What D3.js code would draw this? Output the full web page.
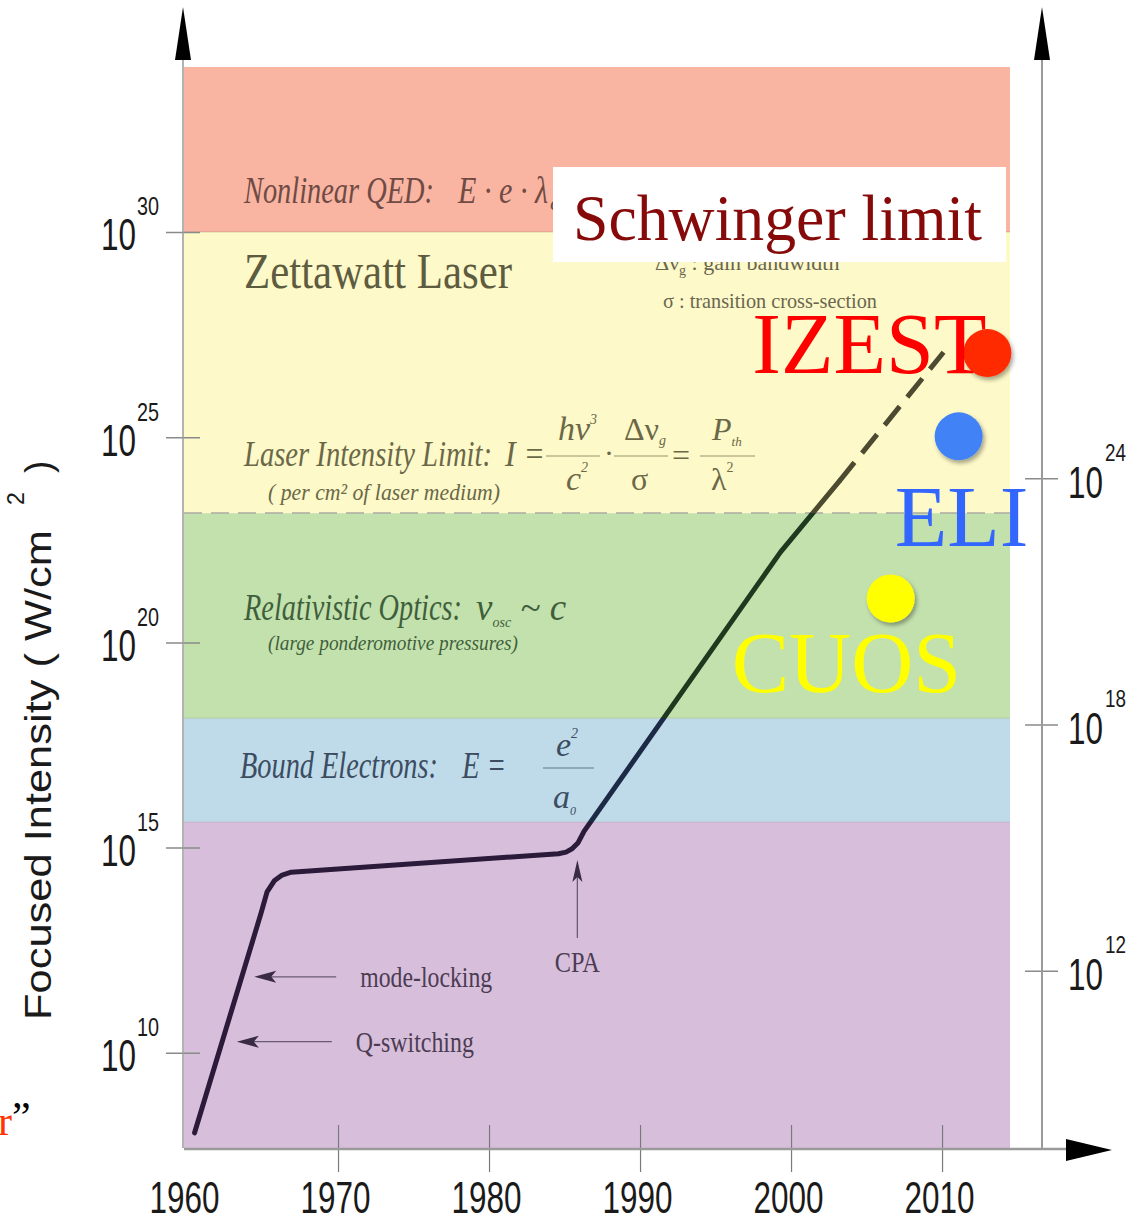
<!DOCTYPE html>
<html>
<head>
<meta charset="utf-8">
<script src="https://d3js.org/d3.v7.min.js"></script>
<style>
  body { margin: 0; background: #fff; }
  text { font-family: "Liberation Serif", "Times New Roman", serif; }
  .num { font-family: "Liberation Sans", Arial, sans-serif; fill: #1a1a1a; }
</style>
</head>
<body>
<script>
// intensity history, exponent of W/cm^2 against year
let curveYears = [1960.5, 1964.9, 1965.3, 1965.8, 1966.3, 1966.9, 1984.6, 1985.1, 1985.5, 1985.9, 1986.3, 1999.3, 2003.2];
let curveExp   = [8.05, 13.4, 13.92, 14.2, 14.33, 14.4, 14.85, 14.89, 14.97, 15.12, 15.4, 22.2, 23.93];
let projYears  = [2003.2, 2010.1];
let projExp    = [23.93, 27.07];

// regime bands (exponents)
let bandLo     = [7.68, 15.63, 18.15, 23.15, 30];
let bandHi     = [15.63, 18.15, 23.15, 30, 34.02];
let bandColors = ["#d7bfdc", "#bfdbea", "#c3e1ad", "#fdf9c8", "#f9b4a2"];
let lineColors = ["#2b1a3a", "#1c2a46", "#1d3a1f", "#4c4a30", "#4c4a30"];

// facilities
let facilities     = ["CUOS", "ELI", "IZEST"];
let facilityYears  = [2006.6, 2011.1, 2013.0];
let facilityExp    = [21.07, 25.02, 27.05];
let facilityColors = ["#ffff00", "#4382f7", "#ff2a00"];
let labelColors    = ["#ffff00", "#3366ff", "#ff0000"];

let schwingerExp = 29.05;

// annotations
let annoNames = ["mode-locking", "Q-switching", "CPA"];
let annoYears = [1964.45, 1963.3, 1985.85];
let annoExp   = [11.85, 10.27, 14.7];

let yearTicks  = [1960, 1970, 1980, 1990, 2000, 2010];
let leftTicks  = [10, 15, 20, 25, 30];
let rightTicks = [12, 18, 24];

let width = 1132, height = 1220;
let p10 = e => Math.pow(10, e);

let svg = d3.select("body").append("svg")
    .attr("width", width)
    .attr("height", height);

let defs = svg.append("defs");
defs.append("filter").attr("id", "shadow")
    .attr("x", "-50%").attr("y", "-50%").attr("width", "200%").attr("height", "200%")
  .append("feDropShadow")
    .attr("dx", 2).attr("dy", 3).attr("stdDeviation", 2).attr("flood-opacity", 0.35);

let x = d3.scaleLinear().domain([1959.8, 2014.5]).range([184, 1010]);
let y = d3.scaleLog().domain([p10(7.68), p10(34.02)]).range([1148, 67]);
let ey = e => y(p10(e));

// bands
svg.append("g").selectAll("rect")
    .data(bandLo)
    .join("rect")
      .attr("x", x(1959.8))
      .attr("width", x(2014.5) - x(1959.8))
      .attr("y", (d, i) => ey(bandHi[i]))
      .attr("height", (d, i) => ey(bandLo[i]) - ey(bandHi[i]))
      .attr("fill", (d, i) => bandColors[i]);

// faint band edges
svg.append("g").selectAll("line")
    .data(bandLo.slice(1))
    .join("line")
      .attr("x1", x(1959.8)).attr("x2", x(2014.5))
      .attr("y1", d => ey(d)).attr("y2", d => ey(d))
      .attr("stroke", (d, i) => i == 2 ? "#a9a9a0" : "rgba(0,0,0,0.07)")
      .attr("stroke-width", (d, i) => i == 2 ? 1.5 : 2)
      .attr("stroke-dasharray", (d, i) => i == 2 ? "18,9" : null);

// left axis
let leftAxis = svg.append("g")
    .attr("transform", "translate(183,0)")
    .call(d3.axisLeft(y).tickValues(leftTicks.map(p10)).tickSize(17).tickFormat(""));
leftAxis.select(".domain").remove();
leftAxis.selectAll(".tick line").attr("x1", 17).attr("stroke", "#8a8a8a").attr("stroke-width", 1.5);
leftAxis.selectAll(".tick").each(function (d, i) {
    let t = d3.select(this);
    t.append("text").attr("class", "num").attr("text-anchor", "start").attr("x", -82).attr("y", 18)
        .attr("font-size", 45).attr("textLength", 35).attr("lengthAdjust", "spacingAndGlyphs")
        .attr("fill", "#1a1a1a").text("10");
    t.append("text").attr("class", "num").attr("text-anchor", "start").attr("x", -46).attr("y", -17)
        .attr("font-size", 25).attr("textLength", 22).attr("lengthAdjust", "spacingAndGlyphs")
        .attr("fill", "#1a1a1a").text(leftTicks[i]);
});

// right axis
let rightAxis = svg.append("g")
    .attr("transform", "translate(1042,0)")
    .call(d3.axisRight(y).tickValues(rightTicks.map(p10)).tickSize(16).tickFormat(""));
rightAxis.select(".domain").remove();
rightAxis.selectAll(".tick line").attr("x1", -17).attr("stroke", "#8a8a8a").attr("stroke-width", 1.5);
rightAxis.selectAll(".tick").each(function (d, i) {
    let t = d3.select(this);
    t.append("text").attr("class", "num").attr("text-anchor", "start").attr("x", 26).attr("y", 19)
        .attr("font-size", 45).attr("textLength", 35).attr("lengthAdjust", "spacingAndGlyphs")
        .attr("fill", "#1a1a1a").text("10");
    t.append("text").attr("class", "num").attr("text-anchor", "start").attr("x", 63).attr("y", -18)
        .attr("font-size", 24).attr("textLength", 21).attr("lengthAdjust", "spacingAndGlyphs")
        .attr("fill", "#1a1a1a").text(rightTicks[i]);
});

// bottom axis
let bottomAxis = svg.append("g")
    .attr("transform", "translate(0,1148)")
    .call(d3.axisBottom(x).tickValues(yearTicks).tickSize(24).tickFormat(d3.format("d")));
bottomAxis.select(".domain").remove();
bottomAxis.selectAll(".tick line")
    .attr("y1", -23)
    .attr("stroke", "#7a7a7a").attr("stroke-width", 1.2)
    .attr("opacity", d => d == 1960 ? 0 : 1);
bottomAxis.selectAll(".tick text")
    .attr("class", "num")
    .attr("y", 65).attr("dy", 0)
    .attr("x", -3)
    .attr("font-size", 44)
    .attr("textLength", 70).attr("lengthAdjust", "spacingAndGlyphs")
    .attr("fill", "#1a1a1a");

// axis lines with arrows
let axisG = svg.append("g");
axisG.append("line").attr("x1", 183).attr("x2", 183).attr("y1", 55).attr("y2", 1148)
    .attr("stroke", "#9a9a9a").attr("stroke-width", 1.5);
axisG.append("line").attr("x1", 1042).attr("x2", 1042).attr("y1", 55).attr("y2", 1150)
    .attr("stroke", "#9a9a9a").attr("stroke-width", 2);
axisG.append("line").attr("x1", 184).attr("x2", 1075).attr("y1", 1149).attr("y2", 1149)
    .attr("stroke", "#9a9a9a").attr("stroke-width", 2.5);
axisG.append("path").attr("d", "M183,7 L191,60 L175,60 Z").attr("fill", "#000");
axisG.append("path").attr("d", "M1042,7 L1050,60 L1034,60 Z").attr("fill", "#000");
axisG.append("path").attr("d", "M1112,1150 L1066,1139 L1066,1161 Z").attr("fill", "#000");

// y axis title
let yTitle = svg.append("g").attr("transform", "translate(51,1020) rotate(-90)");
yTitle.append("text").attr("class", "num").attr("x", 0).attr("y", 0)
    .attr("font-size", 37).attr("textLength", 490).attr("lengthAdjust", "spacingAndGlyphs")
    .attr("fill", "#2a2a2a").text("Focused Intensity ( W/cm");
yTitle.append("text").attr("class", "num").attr("x", 515).attr("y", -27)
    .attr("font-size", 23).attr("fill", "#2a2a2a").text("2");
yTitle.append("text").attr("class", "num").attr("x", 547).attr("y", 0)
    .attr("font-size", 37).attr("fill", "#2a2a2a").text(")");

// regime texts
function txt(xx, yy, str, size, fill, opt) {
    opt = opt || {};
    let t = svg.append("text").attr("x", xx).attr("y", yy)
        .attr("font-size", size).attr("fill", fill)
        .attr("font-style", opt.italic ? "italic" : null)
        .attr("text-anchor", opt.anchor || null)
        .text(str);
    if (opt.len) t.attr("textLength", opt.len).attr("lengthAdjust", "spacingAndGlyphs");
    return t;
}
function fracLine(x1, x2, yy, col) {
    svg.append("line").attr("x1", x1).attr("x2", x2).attr("y1", yy).attr("y2", yy)
        .attr("stroke", col).attr("stroke-width", 1.2).attr("opacity", 0.7);
}

let cRed = "#6f4b44", cYel = "#6b6848", cGrn = "#3f5f3c", cBlu = "#3c4d62";

txt(244, 203, "Nonlinear QED:", 37, cRed, {italic: true, len: 190});
txt(458, 203, "E · e · λ", 37, cRed, {italic: true, len: 90});
txt(550, 210, "c  = m c²", 22, cRed, {italic: true});
txt(244, 288, "Zettawatt Laser", 50, "#5e5c40", {len: 268});
let bw = txt(655, 270, "Δν", 22, "#6a6650");
bw.append("tspan").attr("font-size", 14).attr("dy", 5).text("g");
bw.append("tspan").attr("dy", -5).text(" : gain bandwidth");
txt(663, 308, "σ   : transition cross-section", 22, "#6a6650", {len: 214});

txt(244, 466, "Laser Intensity Limit:", 36, cYel, {italic: true, len: 248});
txt(505, 466, "I =", 36, cYel, {italic: true, len: 40});
let f1 = txt(558, 440, "hν", 34, cYel, {italic: true});
f1.append("tspan").attr("font-size", 14).attr("dy", -16).text("3");
fracLine(546, 600, 456, cYel);
let f1b = txt(566, 490, "c", 34, cYel, {italic: true});
f1b.append("tspan").attr("font-size", 14).attr("dy", -18).text("2");
txt(604, 463, "·", 30, cYel);
let f2 = txt(624, 440, "Δν", 32, cYel);
f2.append("tspan").attr("font-size", 14).attr("dy", 5).attr("font-style", "italic").text("g");
fracLine(614, 668, 456, cYel);
txt(631, 490, "σ", 32, cYel);
txt(672, 466, "=", 32, cYel);
let f3 = txt(712, 440, "P", 32, cYel, {italic: true});
f3.append("tspan").attr("font-size", 13).attr("dy", 6).text("th");
fracLine(700, 755, 456, cYel);
let f3b = txt(711, 490, "λ", 32, cYel);
f3b.append("tspan").attr("font-size", 14).attr("dy", -18).text("2");
txt(268, 500, "( per cm² of laser medium)", 23, cYel, {italic: true, len: 232});

txt(244, 620, "Relativistic Optics:", 37, cGrn, {italic: true, len: 218});
let vo = txt(476, 620, "v", 37, cGrn, {italic: true});
vo.append("tspan").attr("font-size", 14).attr("dy", 7).text("osc");
vo.append("tspan").attr("dy", -7).text(" ~ c");
txt(268, 650, "(large ponderomotive pressures)", 21, cGrn, {italic: true, len: 250});

txt(240, 778, "Bound Electrons:", 37, cBlu, {italic: true, len: 198});
txt(462, 778, "E =", 37, cBlu, {italic: true, len: 44});
let e2 = txt(556, 756, "e", 34, cBlu, {italic: true});
e2.append("tspan").attr("font-size", 14).attr("dy", -18).text("2");
fracLine(543, 594, 768, cBlu);
let a0 = txt(553, 808, "a", 34, cBlu, {italic: true});
a0.append("tspan").attr("font-size", 12).attr("dy", 7).text("0");

// line colour follows the band it crosses
let grad = defs.append("linearGradient").attr("id", "lineGrad")
    .attr("gradientUnits", "userSpaceOnUse")
    .attr("x1", 0).attr("x2", 0).attr("y1", 1148).attr("y2", 67);
bandLo.forEach((lo, i) => {
    let o1 = (1148 - ey(lo)) / (1148 - 67), o2 = (1148 - ey(bandHi[i])) / (1148 - 67);
    grad.append("stop").attr("offset", o1).attr("stop-color", lineColors[i]);
    grad.append("stop").attr("offset", o2).attr("stop-color", lineColors[i]);
});

let line = d3.line()
    .x(d => x(d[0]))
    .y(d => ey(d[1]));

svg.append("path")
    .datum(curveYears.map((d, i) => [d, curveExp[i]]))
    .attr("d", line)
    .attr("fill", "none")
    .attr("stroke", "url(#lineGrad)")
    .attr("stroke-width", 5)
    .attr("stroke-linejoin", "round")
    .attr("stroke-linecap", "round");

svg.append("path")
    .datum(projYears.map((d, i) => [d, projExp[i]]))
    .attr("d", line)
    .attr("fill", "none")
    .attr("stroke", "url(#lineGrad)")
    .attr("stroke-width", 5)
    .attr("stroke-dasharray", "24,12");

// annotation arrows
let annoG = svg.append("g");
annoNames.forEach((name, i) => {
    let tx = x(annoYears[i]), ty = ey(annoExp[i]);
    if (name == "CPA") {
        annoG.append("line").attr("x1", tx).attr("x2", tx).attr("y1", ty + 12).attr("y2", ty + 78)
            .attr("stroke", "#6a5a70").attr("stroke-width", 1.3);
        annoG.append("path").attr("d", `M${tx},${ty} L${tx + 5},${ty + 22} L${tx},${ty + 17} L${tx - 5},${ty + 22} Z`)
            .attr("fill", "#3a2a44");
        txt(tx, ty + 112, name, 29, "#4c3c52", {anchor: "middle", len: 45});
    } else {
        let len = i == 0 ? 82 : 95;
        annoG.append("line").attr("x1", tx + 12).attr("x2", tx + len).attr("y1", ty).attr("y2", ty)
            .attr("stroke", "#6a5a70").attr("stroke-width", 1.3);
        annoG.append("path").attr("d", `M${tx},${ty} L${tx + 22},${ty - 6} L${tx + 17},${ty} L${tx + 22},${ty + 6} Z`)
            .attr("fill", "#3a2a44");
        txt(tx + len + 24, ty + 10, name, 29, "#4c3c52", {len: i == 0 ? 132 : 118});
    }
});

// Schwinger limit
svg.append("rect").attr("x", 553).attr("y", 167).attr("width", 453).attr("height", 95).attr("fill", "#fff");
txt(573, 240, "Schwinger limit", 65, "#870a0a", {len: 409});
svg.append("line")
    .attr("x1", 572).attr("x2", 1044)
    .attr("y1", ey(schwingerExp)).attr("y2", ey(schwingerExp))
    .attr("stroke", "#8e1608").attr("stroke-width", 7)
    .attr("stroke-dasharray", "32,24")
    .attr("filter", "url(#shadow)");

// facilities
svg.append("g").selectAll("circle")
    .data(facilities)
    .join("circle")
      .attr("cx", (d, i) => x(facilityYears[i]))
      .attr("cy", (d, i) => ey(facilityExp[i]))
      .attr("r", 24)
      .attr("fill", (d, i) => facilityColors[i])
      .attr("filter", "url(#shadow)");

let labelDx = [-159, -64, -235], labelDy = [94, 110, 20];
svg.append("g").selectAll("text")
    .data(facilities)
    .join("text")
      .attr("x", (d, i) => x(facilityYears[i]) + labelDx[i])
      .attr("y", (d, i) => ey(facilityExp[i]) + labelDy[i])
      .attr("font-size", 86)
      .attr("fill", (d, i) => labelColors[i])
      .text(d => d);

// stray fragment at left edge
let frag = txt(-2, 1135, "r", 42, "#ff3300");
frag.append("tspan").attr("fill", "#000").attr("dy", -4).text("”");
</script>
</body>
</html>
